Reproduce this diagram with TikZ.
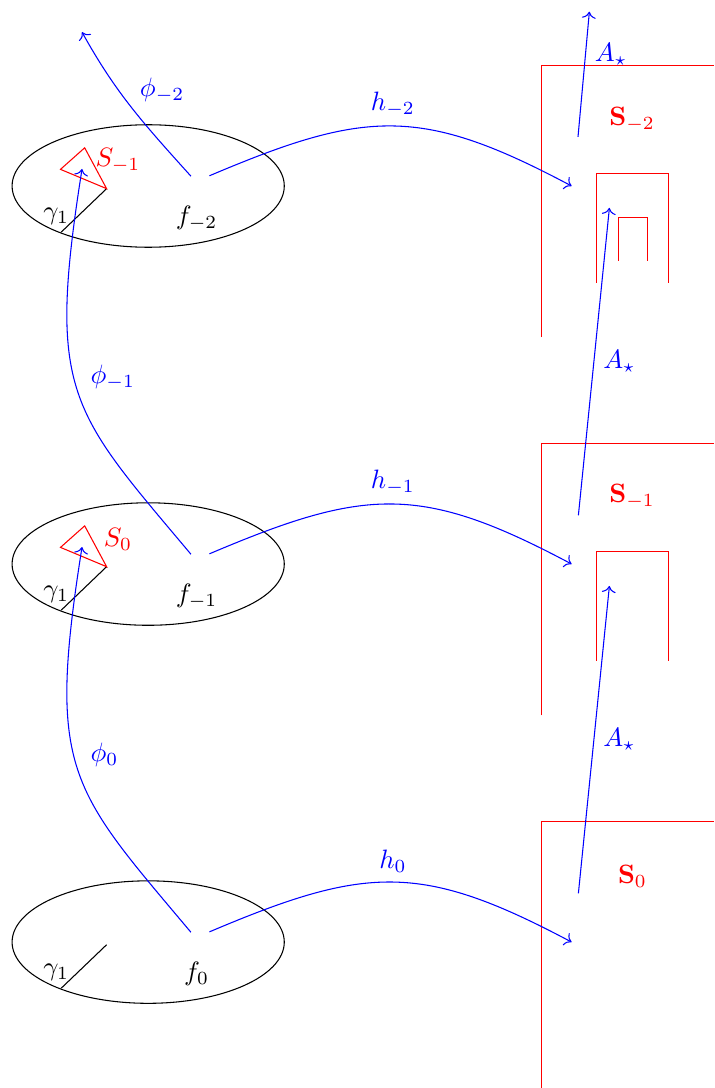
\documentclass[tikz,border=0pt]{standalone}
\usepackage{amsmath, amssymb}
\usepackage{tikz}
\usetikzlibrary{arrows.meta}

\tikzset{
    map/.style={blue, ->},
    maplabel/.style={blue},
    piece/.style={red},
}

\begin{document}
\begin{tikzpicture}[scale=0.5]
    \useasboundingbox (-3.92,-3.86) rectangle (14.97,24.92);

    % the model pieces
    \draw[piece] (10.41,-3.86) -- (10.41,3.2) -- (14.97,3.2);
    \draw[piece] (10.41,6) -- (10.41,13.19) -- (14.97,13.19);
    \draw[piece] (10.41,16) -- (10.41,23.19) -- (14.97,23.19);
    \draw[piece] (11.85,7.44) -- (11.85,10.32) -- (13.77,10.32) -- (13.77,7.44);
    \draw[piece] (11.85,17.44) -- (11.85,20.32) -- (13.77,20.32) -- (13.77,17.44);
    \draw[piece] (12.43,18.02) -- (12.43,19.17) -- (13.2,19.17) -- (13.2,18.02);
    \node[piece] (B0) at (12.81,1.73) {$\mathbf{S}_0$};
    \node[piece] (B1) at (12.8,11.78) {$\mathbf{S}_{-1}$};
    \node[piece] (B2) at (12.8,21.77) {$\mathbf{S}_{-2}$};

    % the three domains
    \draw (0,0) ellipse (3.6 and 1.62);
    \draw (0,10) ellipse (3.6 and 1.62);
    \draw (0,20) ellipse (3.6 and 1.62);

    \draw (-1.1,-0.07) -- (-2.3,-1.22);
    \draw (-1.1,9.93) -- (-2.3,8.78);
    \draw (-1.1,19.93) -- (-2.3,18.78);
    \node (g0) at (-2.43,-0.8) {$\gamma_1$};
    \node (g1) at (-2.43,9.2) {$\gamma_1$};
    \node (g2) at (-2.43,19.2) {$\gamma_1$};

    \node (f0) at (1.28,-0.85) {$f_0$};
    \node (f1) at (1.28,9.15) {$f_{-1}$};
    \node (f2) at (1.28,19.15) {$f_{-2}$};

    \draw[piece] (-1.1,9.93) -- (-2.32,10.44) -- (-1.68,11.01) -- cycle;
    \draw[piece] (-1.1,19.93) -- (-2.32,20.44) -- (-1.68,21.01) -- cycle;
    \node[piece] (S0) at (-0.8,10.66) {$S_0$};
    \node[piece] (Sm1) at (-0.8,20.68) {$S_{-1}$};

    % end points of the maps
    \coordinate (p0) at (1.13,0.26);
    \coordinate (p1) at (1.13,10.26);
    \coordinate (p2) at (1.13,20.26);
    \coordinate (q0) at (1.62,0.27);
    \coordinate (q1) at (1.62,10.27);
    \coordinate (q2) at (1.62,20.27);
    \coordinate (t1) at (-1.75,10.45);
    \coordinate (t2) at (-1.75,20.45);
    \coordinate (t3) at (-1.75,24.07);
    \coordinate (e0) at (11.2,0);
    \coordinate (e1) at (11.2,10);
    \coordinate (e2) at (11.2,20);
    \coordinate (a0) at (11.38,1.29);
    \coordinate (a1) at (11.38,11.29);
    \coordinate (a2) at (11.37,21.3);
    \coordinate (b0) at (12.2,9.42);
    \coordinate (b1) at (12.2,19.42);
    \coordinate (b2) at (11.67,24.61);

    \draw[map] (p0) .. controls (-2.07,4.07) and (-2.69,4.51) .. (t1);
    \draw[map] (p1) .. controls (-2.07,14.07) and (-2.69,14.51) .. (t2);
    \draw[map] (p2) to[out=132, in=-61] (t3);
    \node[maplabel, anchor=west] (phi0) at (-1.77,4.94) {$\phi_0$};
    \node[maplabel, anchor=west] (phi1) at (-1.77,14.94) {$\phi_{-1}$};
    \node[maplabel] (phi2) at (0.37,22.54) {$\phi_{-2}$};

    \draw[map] (q0) to[out=23, in=152, looseness=1.2] node[maplabel, above] (h0) {$h_0$} (e0);
    \draw[map] (q1) to[out=23, in=152, looseness=1.2] node[maplabel, above] (h1) {$h_{-1}$} (e1);
    \draw[map] (q2) to[out=23, in=152, looseness=1.2] node[maplabel, above] (h2) {$h_{-2}$} (e2);

    \draw[map] (a0) -- node[maplabel, right] (A0) {$A_\star$} (b0);
    \draw[map] (a1) -- node[maplabel, right] (A1) {$A_\star$} (b1);
    \draw[map] (a2) -- node[maplabel, right, pos=0.66] (A2) {$A_\star$} (b2);
\end{tikzpicture}
\end{document}
